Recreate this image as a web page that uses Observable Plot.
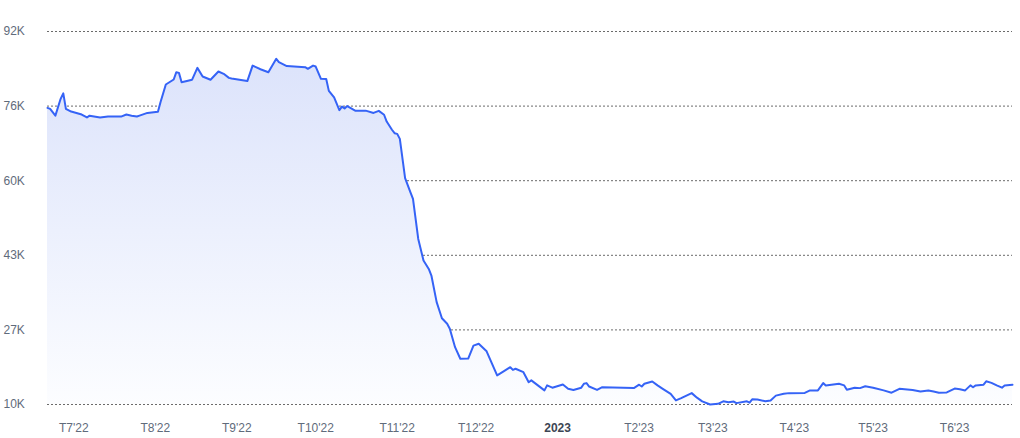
<!DOCTYPE html>
<html><head><meta charset="utf-8">
<script src="https://cdn.jsdelivr.net/npm/d3@7"></script>
<script src="https://cdn.jsdelivr.net/npm/@observablehq/plot@0.6"></script>
<style>
html,body{margin:0;padding:0;background:#fff}
#chart svg{display:block}
</style>
</head><body><div id="chart"></div>
<script>
// Dates of the readings (daily prices, sampled from the chart)
const dates = [
  "2022-06-21","2022-06-22","2022-06-24","2022-06-26","2022-06-27","2022-06-28","2022-06-30",
  "2022-07-02","2022-07-04","2022-07-06","2022-07-07","2022-07-11","2022-07-14","2022-07-19","2022-07-21","2022-07-23","2022-07-25","2022-07-26","2022-07-29",
  "2022-08-02","2022-08-03","2022-08-05","2022-08-08","2022-08-09","2022-08-10","2022-08-11","2022-08-15","2022-08-17","2022-08-19","2022-08-22","2022-08-25","2022-08-27","2022-08-29","2022-08-30",
  "2022-09-05","2022-09-07","2022-09-10","2022-09-13","2022-09-16","2022-09-17","2022-09-20","2022-09-27","2022-09-28","2022-09-30",
  "2022-10-01","2022-10-03","2022-10-05","2022-10-06","2022-10-08","2022-10-10","2022-10-11","2022-10-12","2022-10-13","2022-10-16","2022-10-20","2022-10-23","2022-10-25","2022-10-27","2022-10-28","2022-10-30","2022-10-31",
  "2022-11-01","2022-11-02","2022-11-04","2022-11-06","2022-11-07","2022-11-09","2022-11-11","2022-11-13","2022-11-14","2022-11-16","2022-11-18","2022-11-20","2022-11-21","2022-11-23","2022-11-25","2022-11-28","2022-11-30",
  "2022-12-02","2022-12-05","2022-12-09","2022-12-11","2022-12-14","2022-12-15","2022-12-16","2022-12-19","2022-12-21","2022-12-22","2022-12-27","2022-12-28","2022-12-30",
  "2023-01-03","2023-01-05","2023-01-07","2023-01-10","2023-01-11","2023-01-12","2023-01-13","2023-01-16","2023-01-18","2023-01-30",
  "2023-02-01","2023-02-02","2023-02-03","2023-02-06","2023-02-08","2023-02-10","2023-02-13","2023-02-15","2023-02-17","2023-02-21","2023-02-23","2023-02-25","2023-02-28",
  "2023-03-03","2023-03-05","2023-03-07","2023-03-09","2023-03-10","2023-03-14","2023-03-15","2023-03-16","2023-03-18","2023-03-21","2023-03-23","2023-03-25","2023-03-28","2023-03-30",
  "2023-04-05","2023-04-07","2023-04-10","2023-04-12","2023-04-13","2023-04-18","2023-04-20","2023-04-21","2023-04-24","2023-04-26","2023-04-28",
  "2023-05-01","2023-05-05","2023-05-08","2023-05-11","2023-05-16","2023-05-19","2023-05-22","2023-05-24","2023-05-26","2023-05-29",
  "2023-06-01","2023-06-03","2023-06-05","2023-06-07","2023-06-08","2023-06-09","2023-06-12","2023-06-13","2023-06-15","2023-06-17","2023-06-19","2023-06-20","2023-06-23"
];
// Values in thousands (K)
const prices = [
  75.2,75.0,73.5,77.2,78.4,75.0,74.4,
  74.1,73.75,73.1,73.5,73.1,73.3,73.3,73.75,73.5,73.3,73.5,74.1,
  74.35,76.5,80.35,81.45,83.05,82.9,80.85,81.4,84.0,82.1,81.4,83.2,82.7,81.8,81.65,
  81.1,84.5,83.7,83.05,86.0,85.25,84.4,84.15,83.8,84.5,
  84.3,81.6,81.55,78.95,77.5,74.7,75.5,75.1,75.6,74.6,74.6,74.1,74.55,73.7,72.2,70.4,69.65,
  69.5,68.4,59.75,56.7,55.2,46.4,41.65,39.8,38.35,32.5,28.95,27.75,26.65,22.6,20.05,20.1,22.95,
  23.35,21.7,16.4,17.1,18.2,17.6,17.85,17.1,14.9,15.3,13.1,14.2,13.7,
  14.4,13.45,13.2,13.7,14.55,14.7,13.95,13.2,13.8,13.6,
  14.35,13.95,14.55,15.05,14.2,13.45,12.35,10.9,11.4,12.5,11.5,10.7,10.0,
  10.15,10.7,10.5,10.65,10.3,10.7,10.4,11.15,11.1,10.7,10.9,11.95,12.35,12.5,
  12.55,13.1,13.1,14.7,14.2,14.55,14.2,13.25,13.7,13.6,14.0,
  13.7,13.1,12.6,13.45,13.2,12.85,13.1,12.85,12.6,12.65,
  13.5,13.35,13.1,14.2,13.8,14.2,14.35,15.1,14.75,14.2,13.7,14.2,14.35
];
const yTicks = [10, 26.4, 42.8, 59.2, 75.6, 92];
const yTickLabels = ["10K","27K","43K","60K","76K","92K"];
const monthTicks = ["2022-07-01","2022-08-01","2022-09-01","2022-10-01","2022-11-01","2022-12-01","2023-01-01","2023-02-01","2023-03-01","2023-04-01","2023-05-01","2023-06-01"];
const monthLabels = ["T7'22","T8'22","T9'22","T10'22","T11'22","T12'22","2023","T2'23","T3'23","T4'23","T5'23","T6'23"];
const boldLabel = "2023";

if (dates.length !== prices.length) console.error("length mismatch", dates.length, prices.length);

const data = dates.map((d, i) => ({date: new Date(d), value: prices[i]}));
const tickDates = monthTicks.map(d => new Date(d));
const labelMap = new Map(tickDates.map((d, i) => [+d, monthLabels[i]]));
const normalTicks = tickDates.filter(d => labelMap.get(+d) !== boldLabel);
const boldTicks = tickDates.filter(d => labelMap.get(+d) === boldLabel);
const yLabelMap = new Map(yTicks.map((t, i) => [t, yTickLabels[i]]));

const chart = Plot.plot({
  width: 1020,
  height: 438,
  marginLeft: 47,
  marginRight: 8,
  marginTop: 31,
  marginBottom: 34,
  style: {fontFamily: "'Liberation Sans', Arial, sans-serif", fontSize: "12px", background: "#fff"},
  x: {type: "utc", domain: [new Date("2022-06-21"), new Date("2023-06-23")], label: null},
  y: {domain: [10, 92], label: null},
  marks: [
    Plot.gridY(yTicks, {stroke: "#6b6b6b", strokeOpacity: 1, strokeDasharray: "2,2", strokeWidth: 1}),
    Plot.areaY(data, {x: "date", y1: 10, y2: "value", fill: "url(#areaGrad)"}),
    Plot.lineY(data, {x: "date", y: "value", stroke: "#3563f6", strokeWidth: 2}),
    Plot.axisY(yTicks, {label: null, tickSize: 0, tickPadding: 0, textAnchor: "start", dx: -44, tickFormat: d => yLabelMap.get(d), fill: "#5f6b7b", fontSize: 12}),
    Plot.axisX(normalTicks, {label: null, tickSize: 0, tickPadding: 19, tickFormat: d => labelMap.get(+d), fill: "#5f6b7b", fontSize: 12}),
    Plot.axisX(boldTicks, {label: null, tickSize: 0, tickPadding: 19, tickFormat: d => labelMap.get(+d), fill: "#3d4654", fontWeight: "bold", fontSize: 12})
  ]
});

d3.select(chart).insert("defs", ":first-child").html(
  '<linearGradient id="areaGrad" x1="0" y1="0" x2="0" y2="1">' +
  '<stop offset="0" stop-color="#dce3fb"/>' +
  '<stop offset="1" stop-color="#fcfdff"/>' +
  '</linearGradient>'
);

document.getElementById("chart").appendChild(chart);
</script>
</body></html>
